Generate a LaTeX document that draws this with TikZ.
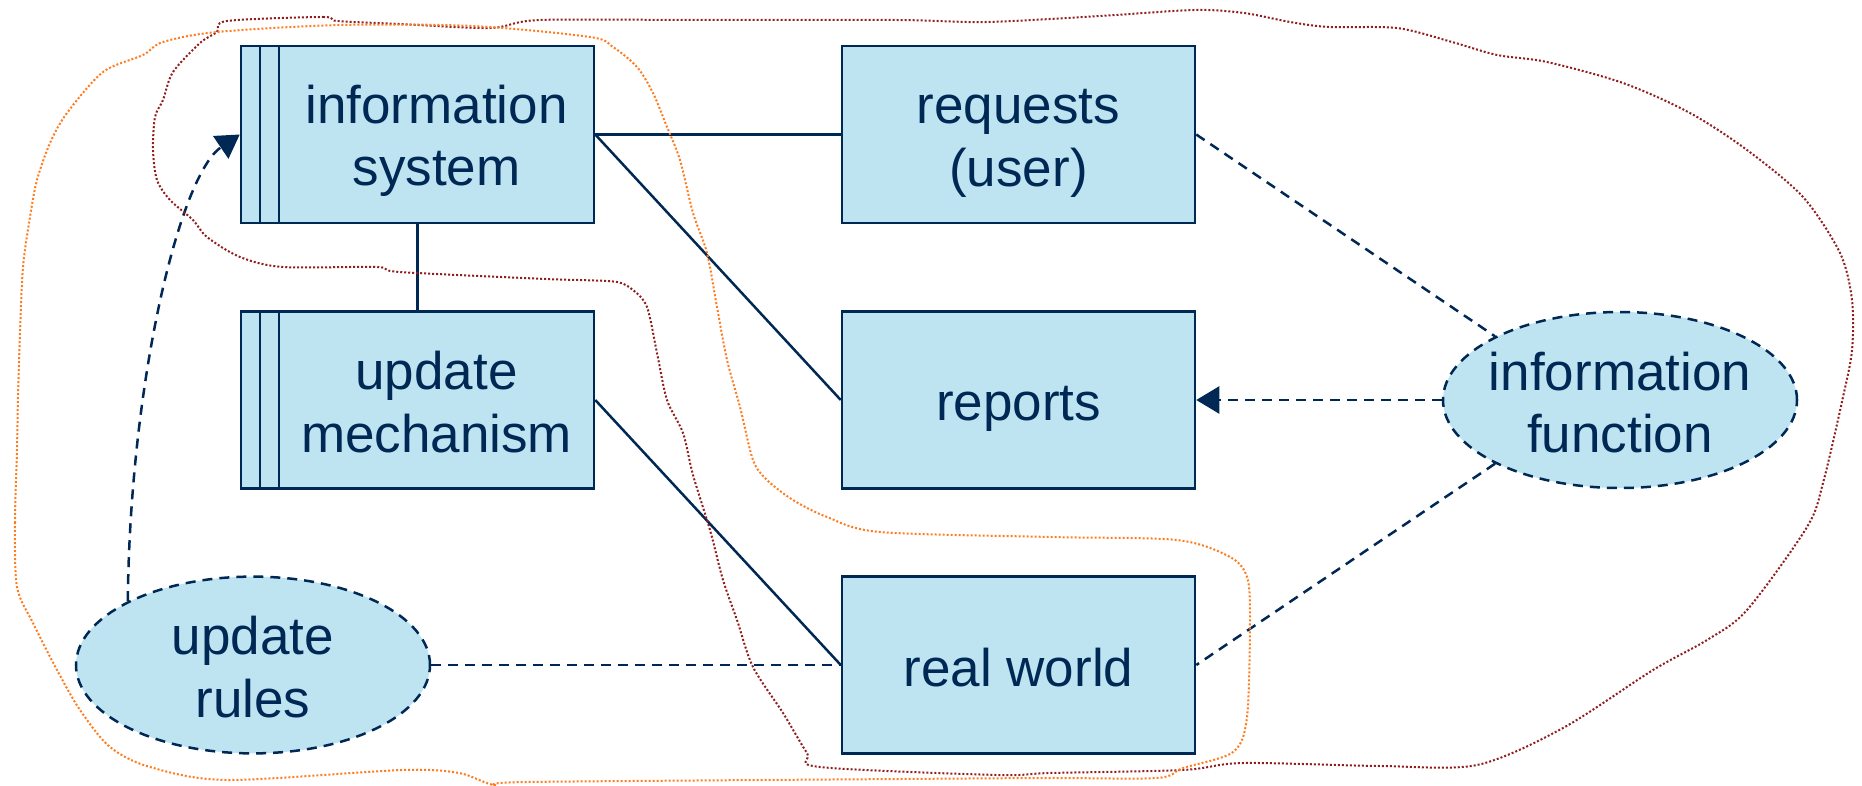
\documentclass[tikz,border=0pt]{standalone}
\usepackage{fontspec}
\setmainfont{Liberation Sans}
\usetikzlibrary{shapes.geometric,arrows.meta}
\definecolor{navy}{RGB}{0,40,85}
\definecolor{boxfill}{RGB}{190,228,242}
\definecolor{scopered}{RGB}{145,30,30}
\definecolor{scopeorange}{RGB}{255,125,30}
\renewcommand{\arraystretch}{0}
% one or two centred lines with a fixed 62pt line pitch
\newcommand{\onel}[1]{\begin{tabular}{@{}c@{}}\rule[-10pt]{0pt}{62pt}#1\end{tabular}}
\newcommand{\twol}[2]{\begin{tabular}{@{}c@{}}\rule[-10pt]{0pt}{62pt}#1\\\rule[-10pt]{0pt}{62pt}#2\end{tabular}}
\tikzset{
  box/.style={draw=navy, line width=2.5pt, fill=boxfill, minimum width=353pt,
    minimum height=177pt, inner sep=0pt, text=navy, font=\fontsize{53}{62}\selectfont},
  sysbox/.style={box, path picture={
    \draw[navy, line width=2.5pt]
      ([xshift=19pt]path picture bounding box.north west) -- ([xshift=19pt]path picture bounding box.south west)
      ([xshift=38pt]path picture bounding box.north west) -- ([xshift=38pt]path picture bounding box.south west);}},
  ell/.style={ellipse, draw=navy, line width=2.5pt, dash pattern=on 10pt off 7pt,
    fill=boxfill, minimum width=354pt, minimum height=176pt, inner sep=0pt,
    text=navy, font=\fontsize{53}{62}\selectfont},
  conn/.style={navy, line width=2.5pt},
  dline/.style={navy, line width=2.5pt, dash pattern=on 10pt off 7pt},
  tip/.style={-{Triangle[length=23pt,width=27pt]}},
  reddot/.style={scopered, line width=2pt, dash pattern=on 2pt off 2pt},
  orangedot/.style={scopeorange, line width=2pt, dash pattern=on 2pt off 2pt},
}
\begin{document}
\begin{tikzpicture}[x=1pt, y=-1pt]
\useasboundingbox (0,0) rectangle (1862,786);

% boxes
\node[sysbox] (is) at (417.5,134.5) {\hspace*{38pt}\twol{information}{system}};
\node[sysbox] (um) at (417.5,400) {\hspace*{38pt}\twol{update}{mechanism}};
\node[box] (req) at (1018.5,134.5) {\twol{requests}{(user)}};
\node[box] (rep) at (1018.5,400) {\onel{reports}};
\node[box] (rw) at (1018.5,665) {\onel{real world}};

% ellipses
\node[ell] (if) at (1620,400) {\makebox[0pt]{\twol{information}{function}}};
\node[ell] (ur) at (253,665) {\makebox[0pt]{\twol{update}{rules}}};

% solid links
\draw[conn] (is.east) -- (req.west);
\draw[conn] (is.east) -- (rep.west);
\draw[conn] (is.south) -- (um.north);
\draw[conn] (um.east) -- (rw.west);

% dashed links
\draw[dline] (ur.east) -- (rw.west);
\draw[dline] (req.east) -- (if.153);
\draw[dline] (if.207) -- (rw.east);
\draw[dline, tip] (if.west) -- (rep.east);
\draw[dline, tip] (ur.153) .. controls (130,380) and (180,175) .. (is.west);

% dotted scope outlines
\draw[reddot] plot[smooth cycle, tension=0.5] coordinates {
  (227,21) (323,17) (337,21) (400,24) (490,28) (540,20) (700,20) (897,20)
  (986,22) (1100,16) (1194,10) (1244,13) (1290,22) (1329,27) (1397,28)
  (1452,42) (1497,55) (1547,62) (1623,83) (1690,113) (1747,150) (1803,197)
  (1840,253) (1852,300) (1852,350) (1843,397) (1823,483) (1807,527)
  (1747,610) (1707,640) (1653,670) (1563,728) (1477,765) (1380,766)
  (1243,763) (1183,770) (1050,773) (997,775) (820,767) (807,753) (783,713)
  (753,667) (737,620) (723,580) (710,530) (693,475) (683,433) (667,400)
  (657,353) (647,307) (633,290) (617,282) (580,280) (546,279) (400,272)
  (377,267) (283,267) (240,257) (207,237) (193,220) (170,200) (157,180)
  (153,150) (155,117) (163,100) (173,72) (200,43) (217,32)};
\draw[orangedot] plot[smooth cycle, tension=0.5] coordinates {
  (17,587) (15,523) (17,450) (18,397) (20,333) (23,267) (30,217) (37,180)
  (50,143) (67,113) (103,72) (143,55) (163,42) (217,32) (340,25) (473,26)
  (590,37) (613,47) (637,67) (653,93) (667,127) (680,160) (693,213)
  (707,253) (717,307) (727,360) (740,407) (753,460) (767,480) (793,500)
  (827,517) (880,532) (1050,537) (1177,540) (1230,557) (1247,577)
  (1250,617) (1247,717) (1233,752) (1183,768) (1157,778) (1050,778)
  (900,779) (528,782) (494,785) (459,773) (402,770) (227,780) (150,767)
  (110,747) (80,710) (57,670) (33,623)};
\end{tikzpicture}
\end{document}
